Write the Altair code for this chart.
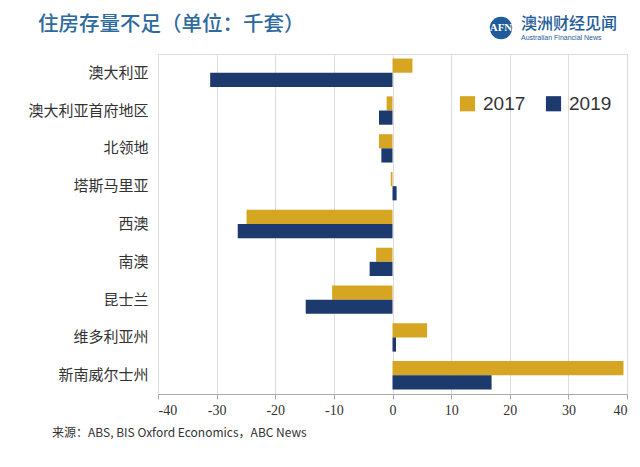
import altair as alt
import pandas as pd

regions = ["澳大利亚", "澳大利亚首府地区", "北领地", "塔斯马里亚", "西澳", "南澳", "昆士兰", "维多利亚州", "新南威尔士州"]
v2017 = [3.4, -1.0, -2.3, -0.3, -24.9, -2.8, -10.3, 5.9, 39.4]
v2019 = [-31.1, -2.3, -1.9, 0.7, -26.4, -3.9, -14.8, 0.6, 16.9]
years = ["2017", "2019"]
colors = ["#D6A521", "#1C3A6E"]
x_ticks = [-40, -30, -20, -10, 0, 10, 20, 30, 40]

rows = []
for r, a, b in zip(regions, v2017, v2019):
    rows.append({"region": r, "year": "2017", "value": a})
    rows.append({"region": r, "year": "2019", "value": b})
df = pd.DataFrame(rows)

W, H = 469, 340
CJK = "Noto Sans CJK SC"

base = alt.Chart(df)

bars = base.mark_bar().encode(
    y=alt.Y("region:N", sort=regions, title=None,
            scale=alt.Scale(paddingInner=0.25, paddingOuter=0.12),
            axis=alt.Axis(labelFont=CJK, labelFontSize=15, labelColor="#333333",
                          domain=False, ticks=False, labelPadding=10)),
    yOffset=alt.YOffset("year:N", sort=years),
    x=alt.X("value:Q", title=None,
            scale=alt.Scale(domain=[-40, 40], nice=False),
            axis=alt.Axis(values=x_ticks, labelExpr="'' + datum.value",
                          labelFont="Liberation Sans Narrow", labelFontSize=14,
                          labelColor="#333333", domainColor="#aaaaaa", tickColor="#aaaaaa",
                          tickSize=5, gridColor="#dddddd", labelPadding=4)),
    color=alt.Color("year:N", sort=years, scale=alt.Scale(domain=years, range=colors),
                    legend=alt.Legend(title=None, orient="none", legendX=300, legendY=40,
                                      direction="horizontal", symbolType="square",
                                      symbolSize=230, symbolOpacity=1, labelFontSize=19,
                                      labelFont="Liberation Sans", labelColor="#333333",
                                      columnPadding=18, labelOffset=6)),
)

def label(text, x, y, **kw):
    return alt.Chart(pd.DataFrame({"t": [text]})).mark_text(**kw).encode(
        x=alt.value(x), y=alt.value(y), text="t:N")

title = label("住房存量不足（单位：千套）", -120, -29, align="left", baseline="middle",
              font=CJK, fontSize=20.5, fontWeight=500, color="#2E6A9E")
source = label("来源：ABS, BIS Oxford Economics，ABC News", -106, H + 39, align="left",
               baseline="middle", font=CJK, fontSize=12, color="#333333")

logo_c = alt.Chart(pd.DataFrame({"a": [1]})).mark_circle(size=500, color="#1F5C99", opacity=1).encode(
    x=alt.value(343), y=alt.value(-26))
logo_t = label("AFN", 343, -26, baseline="middle", font="Liberation Sans Narrow", fontSize=11,
               fontWeight="bold", color="white")
logo_cn = label("澳洲财经见闻", 363, -30, align="left", baseline="middle", font=CJK,
                fontSize=16, fontWeight=500, color="#1F5C99")
logo_en = label("Australian Financial News", 363, -16, align="left", baseline="middle",
                font="Liberation Sans", fontSize=7, color="#1F5C99")

chart = alt.layer(bars, title, source, logo_c, logo_t, logo_cn, logo_en).properties(
    width=W, height=H,
    padding={"left": 150, "top": 46, "right": 5, "bottom": 60},
    autosize=alt.AutoSizeParams(type="none"),
).configure_view(stroke=None).configure(background="white")

chart.save("out.html", embed_options={"renderer": "svg", "actions": False})
